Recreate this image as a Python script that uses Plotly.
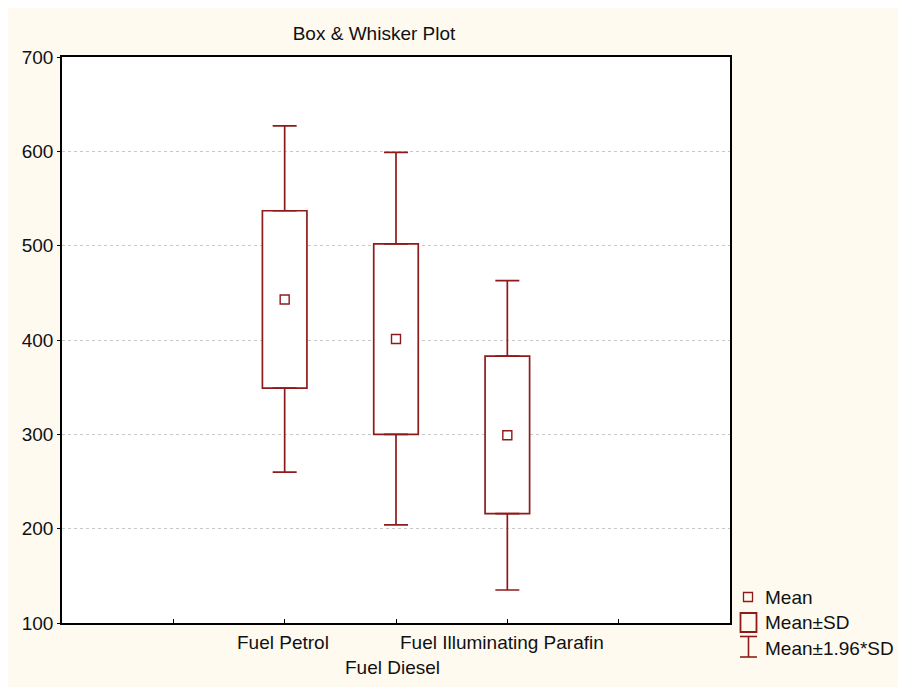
import plotly.graph_objects as go

categories = ["Fuel Petrol", "Fuel Diesel", "Fuel Illuminating Parafin"]
cat_pos = [2, 3, 4]
means = [443, 401, 299]
sd_low = [349, 300, 216]
sd_high = [537, 502, 383]
ci_low = [260, 204, 135]
ci_high = [627, 599, 463]

y_ticks = [100, 200, 300, 400, 500, 600, 700]
x_ticks = [0, 1, 2, 3, 4, 5, 6]

RED = "#8E1B1B"
CREAM = "#FEFAF0"
FONT = "Liberation Sans, Arial, sans-serif"
FS = 19

fig = go.Figure()
# Mean ± SD boxes
fig.add_trace(go.Bar(
    x=cat_pos, base=sd_low, y=[h - l for h, l in zip(sd_high, sd_low)],
    width=0.4, marker=dict(color="white", line=dict(color=RED, width=1.7)),
    showlegend=False, hoverinfo="skip",
))
# Mean ± 1.96*SD whiskers (from box edges to caps)
fig.add_trace(go.Scatter(
    x=cat_pos, y=sd_high, mode="markers", marker=dict(size=1, color="rgba(0,0,0,0)"),
    error_y=dict(type="data", symmetric=False, array=[c - h for c, h in zip(ci_high, sd_high)],
                 arrayminus=[0, 0, 0], color=RED, thickness=1.7, width=12),
    showlegend=False, hoverinfo="skip",
))
fig.add_trace(go.Scatter(
    x=cat_pos, y=sd_low, mode="markers", marker=dict(size=1, color="rgba(0,0,0,0)"),
    error_y=dict(type="data", symmetric=False, array=[0, 0, 0],
                 arrayminus=[l - c for l, c in zip(sd_low, ci_low)], color=RED, thickness=1.7, width=12),
    showlegend=False, hoverinfo="skip",
))
# Means
fig.add_trace(go.Scatter(
    x=cat_pos, y=means, mode="markers",
    marker=dict(symbol="square-open", size=9, color=RED, line=dict(width=1.4, color=RED)),
    showlegend=False, hoverinfo="skip",
))

# screen-pixel helpers (page has 8px body offset; plot area spans screen x 62..730, y 57..623)
W, H = 668, 566
def px(x):
    return (x - 62) / W
def py(y):
    return 1 - (y - 57) / H

# category labels (staggered like the reference)
label_y = [642, 668, 642]
label_dx = [-2, -4, -5]
for p, t, ly, dx in zip(cat_pos, categories, label_y, label_dx):
    fig.add_annotation(x=p, y=py(ly), xref="x", yref="paper", text=t, showarrow=False, xshift=dx,
                       font=dict(family=FONT, size=FS, color="#111"), yanchor="middle")

shapes = []
# Mean symbol
shapes.append(dict(type="rect", xref="paper", yref="paper", x0=px(743.5), x1=px(752.5), y0=py(601.5), y1=py(592.5),
                   line=dict(color=RED, width=1.3), fillcolor="rgba(0,0,0,0)"))
# Mean±SD symbol
shapes.append(dict(type="rect", xref="paper", yref="paper", x0=px(740.5), x1=px(756.5), y0=py(632), y1=py(613),
                   line=dict(color=RED, width=1.8), fillcolor="rgba(0,0,0,0)"))
# Mean±1.96*SD symbol
shapes.append(dict(type="line", xref="paper", yref="paper", x0=px(748.5), x1=px(748.5), y0=py(657), y1=py(636.5),
                   line=dict(color=RED, width=1.6)))
shapes.append(dict(type="line", xref="paper", yref="paper", x0=px(740), x1=px(757), y0=py(636.5), y1=py(636.5),
                   line=dict(color=RED, width=1.6)))
shapes.append(dict(type="line", xref="paper", yref="paper", x0=px(740), x1=px(757), y0=py(657), y1=py(657),
                   line=dict(color=RED, width=1.6)))

legend_items = [("Mean", 597), ("Mean±SD", 622), ("Mean±1.96*SD", 648)]
for t, yy in legend_items:
    fig.add_annotation(x=px(763), y=py(yy), xref="paper", yref="paper", text=t, showarrow=False,
                       xanchor="left", yanchor="middle", font=dict(family=FONT, size=FS, color="#111"))

fig.update_layout(
    width=906, height=687,
    margin=dict(l=54, r=184, t=49, b=72),
    paper_bgcolor=CREAM, plot_bgcolor="white",
    title=dict(text="Box & Whisker Plot", x=(374 - 8) / 906, xanchor="center", y=1 - (33 - 8) / 687,
               yanchor="middle", font=dict(family=FONT, size=FS, color="#111")),
    shapes=shapes,
    showlegend=False,
)
fig.update_xaxes(range=[0, 6], tickvals=x_ticks, ticktext=[""] * len(x_ticks), ticks="inside", ticklen=4,
                 tickcolor="black", showgrid=False, zeroline=False,
                 showline=True, linecolor="black", linewidth=1.5, mirror=True)
fig.update_yaxes(range=[100, 700], tickvals=y_ticks, ticks="outside", ticklen=3, tickcolor="black",
                 showgrid=True, gridcolor="#c8c8c8", griddash="dot", gridwidth=1, zeroline=False,
                 showline=True, linecolor="black", linewidth=1.5, mirror=True,
                 tickfont=dict(family=FONT, size=FS, color="#111"))

fig.write_html("out.html")
